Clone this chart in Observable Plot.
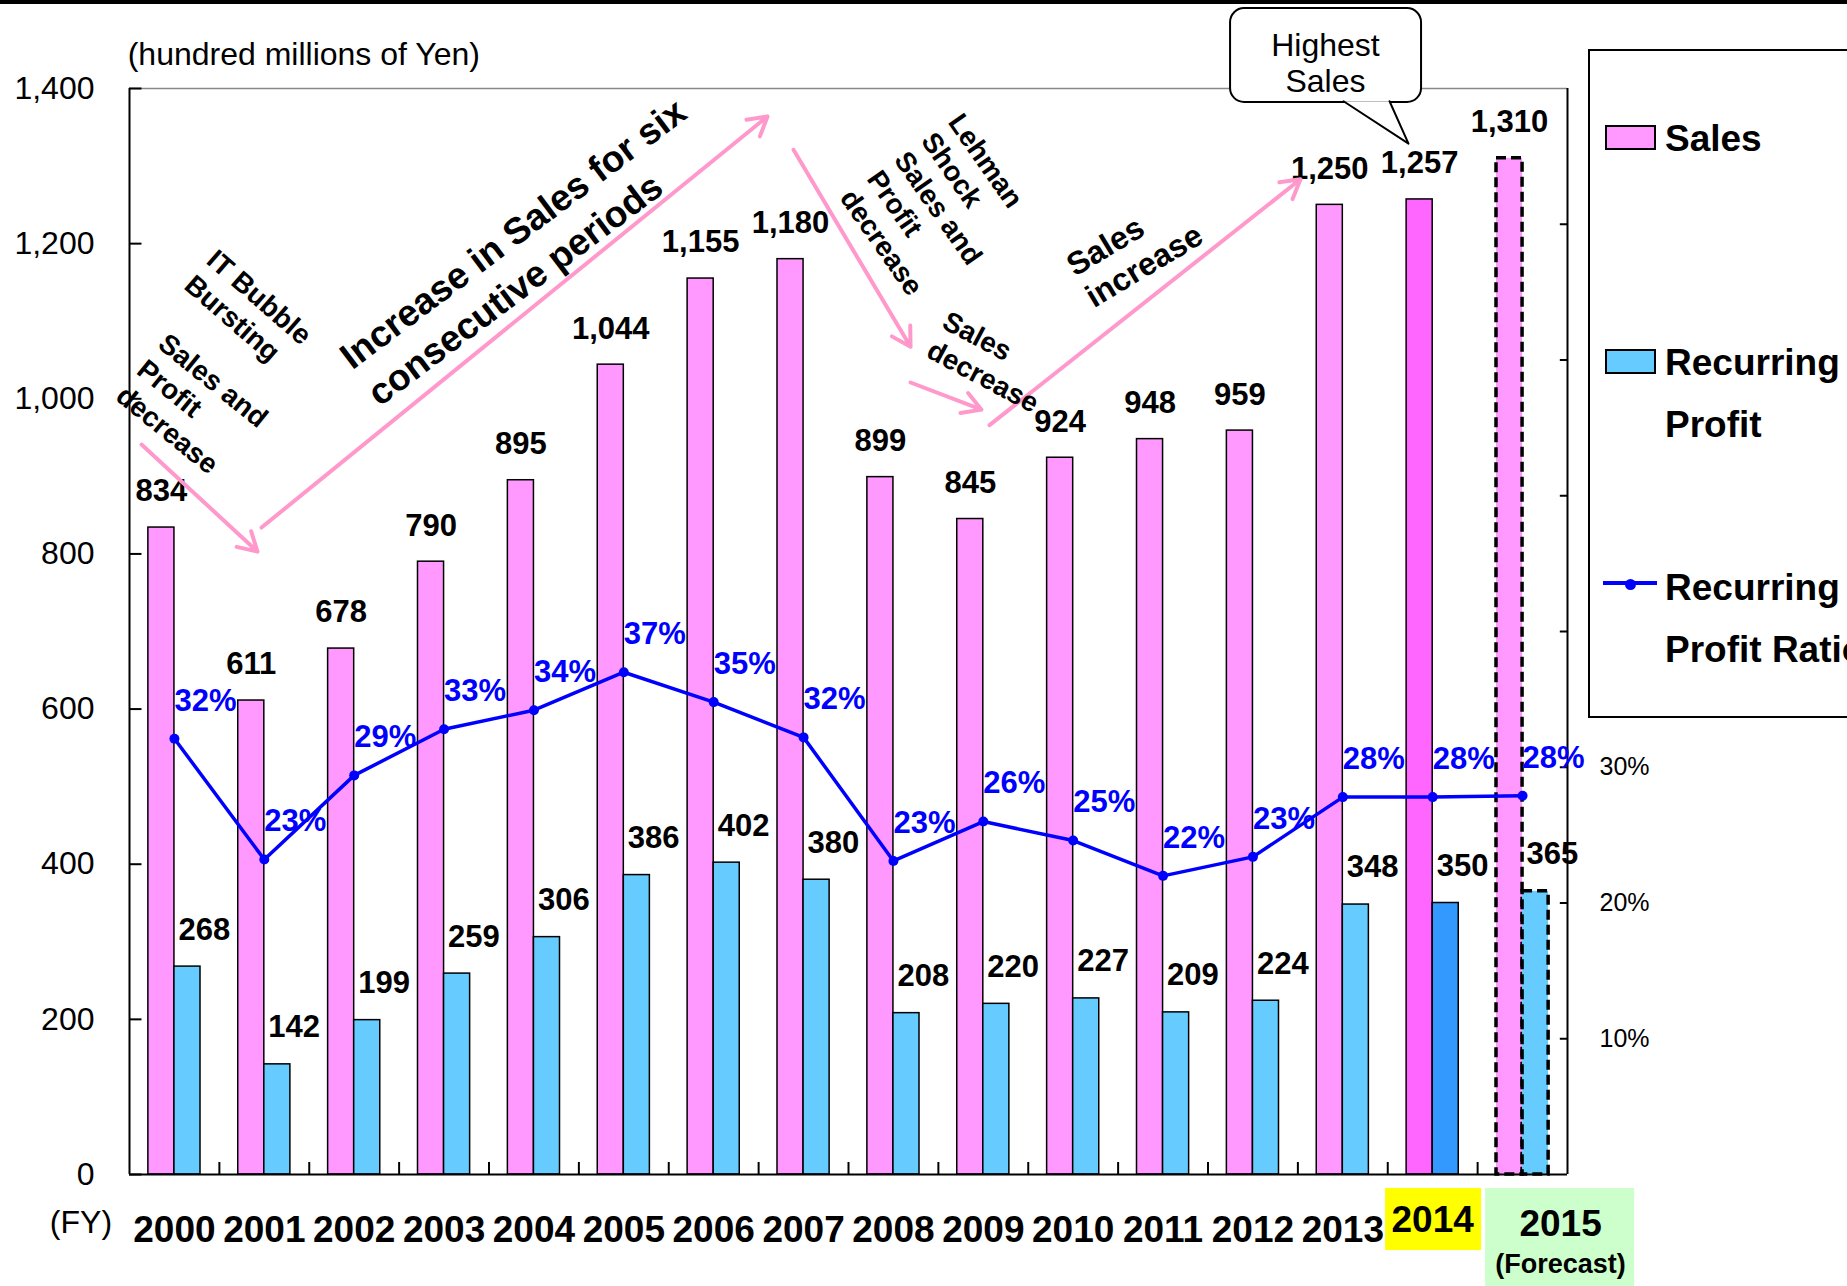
<!DOCTYPE html>
<html>
<head>
<meta charset="utf-8">
<script src="https://cdn.jsdelivr.net/npm/d3@7"></script>
<script src="https://cdn.jsdelivr.net/npm/@observablehq/plot@0.6"></script>
<style>
  body { margin: 0; background: #fff; }
  #wrap { position: relative; width: 1847px; height: 1286px; overflow: hidden; background: #fff;
          font-family: "Liberation Sans", Arial, Helvetica, sans-serif; }
  #chart { position: absolute; left: 0; top: 0; }
  #topbar { position: absolute; left: 0; top: 0; width: 1847px; height: 4px; background: #000; }
  #legend { position: absolute; left: 1588px; top: 49px; width: 300px; height: 669px;
            border: 2px solid #000; box-sizing: border-box; background: #fff; }
  #legend .sw { position: absolute; width: 51px; height: 25px; border: 2px solid #000; box-sizing: border-box; }
  #legend .lt { position: absolute; left: 75px; font-weight: bold; font-size: 37px; line-height: 1;
                transform: translateY(-50%); white-space: nowrap; color: #000; }
  #legend .ln { position: absolute; width: 54px; height: 4px; background: #0000ff; }
  #legend .dt { position: absolute; width: 11px; height: 11px; border-radius: 50%; background: #0000ff; }
</style>
</head>
<body>
<div id="wrap">
  <div id="chart"></div>
  <div id="topbar"></div>
  <div id="legend"></div>
</div>
<script>
// ---------------- data ----------------
const years       = [2000, 2001, 2002, 2003, 2004, 2005, 2006, 2007, 2008, 2009, 2010, 2011, 2012, 2013, 2014, 2015];
const sales       = [834, 611, 678, 790, 895, 1044, 1155, 1180, 899, 845, 924, 948, 959, 1250, 1257, 1310];
const profit      = [268, 142, 199, 259, 306, 386, 402, 380, 208, 220, 227, 209, 224, 348, 350, 365];
const profitRatio = [32.1, 23.2, 29.4, 32.8, 34.2, 37.0, 34.8, 32.2, 23.1, 26.0, 24.6, 22.0, 23.4, 27.8, 27.8, 27.9];
const salesTicks      = [0, 200, 400, 600, 800, 1000, 1200, 1400];
const ratioTicks      = [10, 20, 30, 40, 50, 60, 70];
const ratioTickLabels = [10, 20, 30];
const legendItems = [
  {kind: "bar",  color: "#ff99ff", lines: ["Sales"]},
  {kind: "bar",  color: "#66ccff", lines: ["Recurring", "Profit"]},
  {kind: "line", color: "#0000ff", lines: ["Recurring", "Profit Ratio"]}
];

// ---------------- annotations (in data units) ----------------
const notes = [
  {text: "Sales and\nProfit\ndecrease", x: 1999.967, y: 1091, rotate: 39, size: 28, lh: 1.2},
  {text: "IT Bubble\nBursting", x: 2000.513, y: 1199, rotate: 41, size: 28, lh: 1.2},
  {text: "Increase in Sales for six\nconsecutive periods", x: 2001.759, y: 1070, rotate: -37, size: 37, lh: 1.24},
  {text: "Lehman\nShock\nSales and\nProfit\ndecrease", x: 2008.813, y: 1374, rotate: 55, size: 28, lh: 1.18},
  {text: "Sales\ndecrease", x: 2008.646, y: 1119, rotate: 28, size: 28, lh: 1.18},
  {text: "Sales\nincrease", x: 2009.870, y: 1186, rotate: -31, size: 32, lh: 1.15}
];
const arrows = [
  {x1: 1999.634, y1: 941, x2: 2000.924, y2: 803},
  {x1: 2000.969, y1: 834, x2: 2006.599, y2: 1364},
  {x1: 2006.888, y1: 1321, x2: 2008.190, y2: 1067},
  {x1: 2008.190, y1: 1021, x2: 2008.980, y2: 986},
  {x1: 2009.069, y1: 966, x2: 2012.529, y2: 1283}
];
const callout = {x1: 2011.751, x2: 2013.876, y1: 1382, y2: 1503, cx: 2012.807, cy: 1434, text: "Highest\nSales"};
const calloutTail = [{x: 2013.008, y: 1383.6}, {x: 2013.731, y: 1329}, {x: 2013.520, y: 1383.6}];
const labelBoxes = [
  {x1: 2013.476, x2: 2014.544, y1: -18, y2: -98},
  {x1: 2014.589, x2: 2016.247, y1: -18, y2: -152}
];

// ---------------- chart ----------------
const FONT = '"Liberation Sans", Arial, Helvetica, sans-serif';
const rows = years.map((year, i) => ({year, sales: sales[i], profit: profit[i], ratio: profitRatio[i]}));
const past = rows.filter(d => d.year <= 2013);
const latest = rows.filter(d => d.year === 2014);
const forecast = rows.filter(d => d.year === 2015);
const BAR = 0.29;
const ratioY = d3.scaleLinear([0, 80], [0, 1400]);
const boundaries = years.slice(0, -1).map(y => y + 0.5);

const salesBars = (data, fill, extra = {}) =>
  Plot.rect(data, {x1: d => d.year - BAR, x2: d => d.year, y1: () => 0, y2: "sales",
                   fill, stroke: "#000", strokeWidth: 1.5, ...extra});
const profitBars = (data, fill, extra = {}) =>
  Plot.rect(data, {x1: d => d.year, x2: d => d.year + BAR, y1: () => 0, y2: "profit",
                   fill, stroke: "#000", strokeWidth: 1.5, ...extra});
const dashed = {strokeDasharray: "10,5", strokeWidth: 3.5};

const yearText = (data, dy, extra = {}) =>
  Plot.text(data, {x: "year", frameAnchor: "bottom", lineAnchor: "middle", dy, text: d => String(d.year),
                   fontSize: 37, fontWeight: "bold", fill: "#000", ...extra});

const chart = Plot.plot({
  width: 1847,
  height: 1286,
  marginLeft: 129,
  marginRight: 280,
  marginTop: 88,
  marginBottom: 112,
  x: {domain: [1999.5, 2015.5], axis: null},
  y: {domain: [0, 1400], axis: null},
  style: {fontFamily: FONT, background: "transparent", overflow: "visible"},
  marks: [
    // highlighted x labels backgrounds
    Plot.rect(labelBoxes.slice(0, 1), {x1: "x1", x2: "x2", y1: "y1", y2: "y2", fill: "#ffff00"}),
    Plot.rect(labelBoxes.slice(1), {x1: "x1", x2: "x2", y1: "y1", y2: "y2", fill: "#ccffcc"}),

    // bars
    salesBars(past, "#ff99ff"),
    profitBars(past, "#66ccff"),
    salesBars(latest, "#ff66ff"),
    profitBars(latest, "#3399ff"),
    salesBars(forecast, "#ff99ff", dashed),
    profitBars(forecast, "#66ccff", dashed),

    // frame / axes lines
    Plot.ruleY([1400], {stroke: "#888", strokeWidth: 1.5}),
    Plot.ruleY([0], {stroke: "#000", strokeWidth: 2}),
    Plot.ruleX([1999.5], {stroke: "#000", strokeWidth: 2}),
    Plot.ruleX([2015.5], {stroke: "#000", strokeWidth: 2}),
    Plot.ruleY(salesTicks, {y: d => d, x1: () => 1999.5, x2: () => 1999.639, stroke: "#000", strokeWidth: 2}),
    Plot.ruleY(ratioTicks, {y: d => ratioY(d), x1: () => 2015.42, x2: () => 2015.5, stroke: "#000", strokeWidth: 2}),
    Plot.ruleX(boundaries, {x: d => d, y1: () => 0, y2: () => 15.5, stroke: "#000", strokeWidth: 2}),

    // axis labels
    Plot.text(salesTicks, {y: d => d, frameAnchor: "left", dx: -35, textAnchor: "end",
                           text: d => d3.format(",")(d), fontSize: 32, fill: "#000"}),
    Plot.text(ratioTickLabels, {y: d => ratioY(d), frameAnchor: "right", dx: 32, textAnchor: "start",
                                text: d => d + "%", fontSize: 25, fill: "#000"}),
    Plot.text([{t: "(hundred millions of Yen)", x: 1999.48, y: 1444}],
              {x: "x", y: "y", text: "t", textAnchor: "start", fontSize: 32, fill: "#000"}),
    Plot.text([{t: "(FY)", x: 1998.96}], {x: "x", frameAnchor: "bottom", lineAnchor: "middle", dy: 48,
                                          text: "t", fontSize: 32, fill: "#000"}),
    yearText(past, 56),
    yearText(latest, 46),
    yearText(forecast, 50, {dx: 38}),
    Plot.text(forecast, {x: "year", frameAnchor: "bottom", lineAnchor: "middle", dx: 38, dy: 90,
                         text: () => "(Forecast)", fontSize: 27, fontWeight: "bold", fill: "#000"}),

    // ratio line
    Plot.line(rows, {x: "year", y: d => ratioY(d.ratio), stroke: "#0000ff", strokeWidth: 3.5}),
    Plot.dot(rows, {x: "year", y: d => ratioY(d.ratio), r: 5, fill: "#0000ff", stroke: "none"}),

    // value labels
    Plot.text(rows, {x: d => d.year - BAR / 2, y: "sales", dy: -36, text: d => d3.format(",")(d.sales),
                     fontSize: 31, fontWeight: "bold", fill: "#000"}),
    Plot.text(rows, {x: "year", y: "profit", dx: 4, dy: -37, textAnchor: "start", text: d => String(d.profit),
                     fontSize: 31, fontWeight: "bold", fill: "#000"}),
    Plot.text(rows, {x: "year", y: d => ratioY(d.ratio), dy: -38, textAnchor: "start",
                     text: d => Math.round(d.ratio) + "%", fontSize: 31, fontWeight: "bold", fill: "#0000ff"}),

    // annotations
    Plot.arrow(arrows, {x1: "x1", y1: "y1", x2: "x2", y2: "y2", stroke: "#ff99cc", strokeWidth: 4, headLength: 8}),
    ...notes.map(n => Plot.text([n], {x: "x", y: "y", text: "text", rotate: n.rotate, fontSize: n.size,
                                      fontWeight: "bold", textAnchor: "start", lineAnchor: "top",
                                      lineHeight: n.lh, fill: "#000"})),
    Plot.rect([callout], {x1: "x1", x2: "x2", y1: "y1", y2: "y2", fill: "#fff", stroke: "#000", strokeWidth: 2, rx: 14}),
    Plot.line(calloutTail, {x: "x", y: "y", fill: "#fff", stroke: "#000", strokeWidth: 2}),
    Plot.text([callout], {x: "cx", y: "cy", text: "text", fontSize: 32, lineHeight: 1.15, fill: "#000"})
  ]
});
document.getElementById("chart").appendChild(chart);

// ---------------- legend ----------------
const legend = document.getElementById("legend");
const rowsTop = [87, 311, 536];   // centre of first text line, relative to legend box
legendItems.forEach((item, i) => {
  const cy = rowsTop[i];
  if (item.kind === "bar") {
    const sw = document.createElement("div");
    sw.className = "sw";
    sw.style.left = "15px";
    sw.style.top = (cy - 13) + "px";
    sw.style.background = item.color;
    legend.appendChild(sw);
  } else {
    const ln = document.createElement("div");
    ln.className = "ln";
    ln.style.left = "13px";
    ln.style.top = (cy - 6) + "px";
    ln.style.background = item.color;
    legend.appendChild(ln);
    const dt = document.createElement("div");
    dt.className = "dt";
    dt.style.left = "35px";
    dt.style.top = (cy - 8.5) + "px";
    dt.style.background = item.color;
    legend.appendChild(dt);
  }
  item.lines.forEach((t, j) => {
    const lt = document.createElement("div");
    lt.className = "lt";
    lt.style.top = (cy + j * 62) + "px";
    lt.textContent = t;
    legend.appendChild(lt);
  });
});
</script>
</body>
</html>
